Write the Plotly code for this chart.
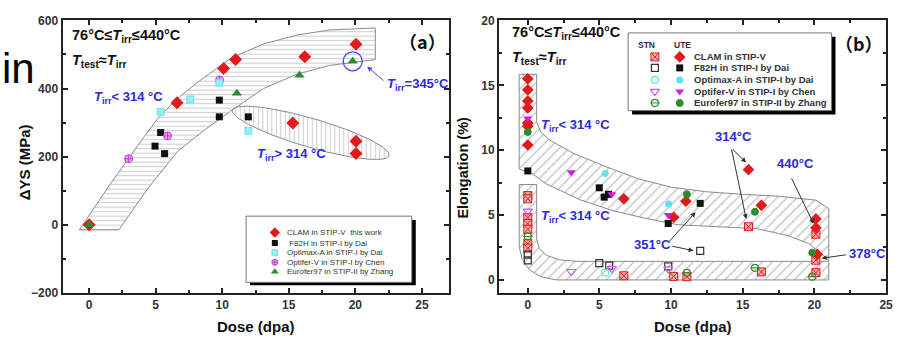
import numpy as np
import plotly.graph_objects as go

W, H = 906, 345

# ---------------- Panel (a): ΔYS vs dose ----------------
a_clam_x = [0, 6.6, 10.1, 11.0, 16.2, 20.05, 15.3, 20.05, 20.05]
a_clam_y = [0, 358, 459, 485, 493, 530, 299, 245, 209]
a_f82h_x = [4.95, 5.37, 5.67, 9.78, 9.78, 11.96]
a_f82h_y = [231, 271, 209, 366, 317, 317]
a_optifer_x = [2.97, 5.89, 9.8]
a_optifer_y = [194, 261, 425]
a_optimax_x = [5.37, 7.6, 9.78, 11.96]
a_optimax_y = [332, 368, 417, 276]
a_eurofer_x = [0, 11.1, 15.8, 19.8]
a_eurofer_y = [0, 386, 439, 480]

# ---------------- Panel (b): elongation vs dose ----------------
b_clam_ute_x = [0, 0, 0, 0, 0, 0, 0, 6.7, 11.03, 10.18, 15.4, 16.3, 20.1, 20.1, 20.2]
b_clam_ute_y = [15.5, 14.65, 13.8, 13.25, 12.1, 11.85, 10.4, 6.25, 6.07, 4.83, 8.5, 5.75, 4.7, 4.02, 1.97]
b_clam_stn_x = [0, 0, 0, 0, 0, 0, 0, 6.7, 10.18, 11.1, 15.4, 16.3, 20.1, 20.1, 20.1]
b_clam_stn_y = [6.5, 6.25, 4.8, 4.35, 3.9, 2.8, 2.45, 0.32, 0.27, 0.25, 4.1, 0.62, 3.52, 1.52, 0.56]
b_f82h_ute_x = [0, 4.99, 5.33, 5.63, 9.8, 12.03]
b_f82h_ute_y = [8.4, 7.1, 6.38, 6.6, 4.35, 5.9]
b_f82h_stn_x = [0, 0, 4.99, 5.68, 9.8, 12.03]
b_f82h_stn_y = [1.95, 1.5, 1.3, 1.1, 1.05, 2.24]
b_optimax_ute_x = [5.4, 9.83]
b_optimax_ute_y = [8.2, 5.85]
b_optimax_stn_x = [5.4]
b_optimax_stn_y = [0.57]
b_optifer_ute_x = [0, 3.03, 5.86, 9.8]
b_optifer_ute_y = [12.45, 8.3, 6.6, 5.0]
b_optifer_stn_x = [0, 3.03, 5.86, 9.8]
b_optifer_stn_y = [5.3, 0.65, 0.88, 0.85]
b_eurofer_ute_x = [0, 11.1, 15.85, 19.85]
b_eurofer_ute_y = [11.4, 6.6, 5.25, 2.1]
b_eurofer_stn_x = [0, 11.1, 15.85, 19.85]
b_eurofer_stn_y = [3.35, 0.55, 0.93, 0.25]

legend_a_names = ["CLAM in STIP-V  this work", " F82H in STIP-I by Dai", "Optimax-A in STIP-I by Dai",
                  "Optifer-V in STIP-I by Chen", "Eurofer97 in STIP-II by Zhang"]
legend_b_names = ["CLAM in STIP-V", "F82H in STIP-I by Dai", "Optimax-A in STIP-I by Dai",
                  "Optifer-V in STIP-I by Chen", "Eurofer97 in STIP-II by Zhang"]

# hatched band outlines (data units)
band_a = [(-0.74, -15), (1.49, 114), (3.71, 236), (5.2, 315), (6.68, 372), (8.17, 419), (10.64, 489),
          (13.1, 531), (15.6, 557), (18.07, 572), (21.5, 578),
          (21.5, 485), (18.07, 468), (15.6, 442), (13.1, 400), (10.64, 334), (8.66, 278), (6.68, 217),
          (4.46, 109), (2.23, -15)]
ellipse_a = dict(cx=16.65, cy=270, ux=5.88, uy=-67.0, vx=-0.32, vy=-40.4)
band_b_upper = [(-0.6, 15.85), (0.62, 15.85), (0.62, 12.2), (0.9, 11.4), (1.5, 10.8), (3.1, 9.8),
                (5.4, 8.75), (7.7, 7.8), (10.0, 7.15), (12.4, 6.8), (15.0, 6.6), (17.5, 6.45),
                (20.1, 6.15), (21.0, 5.5), (21.0, 1.5), (20.5, 2.0), (19.6, 2.8), (18.2, 3.4),
                (16.0, 3.95), (14.0, 4.05), (12.0, 4.15), (10.5, 4.25), (8.2, 4.75), (5.9, 5.35),
                (3.6, 6.2), (1.3, 7.4), (0.3, 8.2), (-0.6, 8.55)]
band_b_lower = [(-0.6, 7.35), (0.62, 7.35), (0.62, 3.2), (0.8, 2.4), (1.3, 1.9), (2.2, 1.55),
                (3.5, 1.43), (21.0, 1.43), (21.0, 0), (2.0, 0), (0.9, 0.25), (0.1, 0.8),
                (-0.4, 1.6), (-0.6, 2.6)]

RED = '#e01b1b'
BLK = '#111111'
CYA_A = '#8ff2f2'
CYA_B = '#5ee3ee'
MAG = '#d21ee0'
VIO = '#c060dc'
GRN = '#2f8a2f'
BLUE = '#2b2bd6'
FONT = 'Liberation Sans'

fig = go.Figure()

def band(pts, shape, xa, ya, size, solidity, color='#8c8c8c'):
    xs = [p[0] for p in pts] + [pts[0][0]]
    ys = [p[1] for p in pts] + [pts[0][1]]
    fig.add_trace(go.Scatter(x=xs, y=ys, mode='lines', fill='toself', xaxis=xa, yaxis=ya,
                             line=dict(color='#8a8a8a', width=1), fillcolor='rgba(0,0,0,0)',
                             fillpattern=dict(shape=shape, fgcolor=color, bgcolor='rgba(255,255,255,0)',
                                              size=size, solidity=solidity),
                             hoverinfo='skip', showlegend=False))

band(band_a, '-', 'x', 'y', 4.5, 0.25, '#a0a0a0')
t = np.linspace(0, 2 * np.pi, 120)
e = ellipse_a
band(list(zip(e['cx'] + e['ux'] * np.cos(t) + e['vx'] * np.sin(t),
              e['cy'] + e['uy'] * np.cos(t) + e['vy'] * np.sin(t))), '|', 'x', 'y', 4.5, 0.25, '#a0a0a0')
band(band_b_upper, '/', 'x2', 'y2', 7, 0.2)
band(band_b_lower, '/', 'x2', 'y2', 7, 0.2)

# marker styles
sty_a = [
    dict(symbol='diamond', size=10, color=RED, line=dict(color=RED, width=0)),
    dict(symbol='square', size=7, color=BLK, line=dict(width=0)),
    dict(symbol='square', size=7, color=CYA_A, line=dict(color='#6fd8e8', width=0.8)),
    dict(symbol='circle-cross', size=8, color='#e7a0ef', line=dict(color='#c040d0', width=1)),
    dict(symbol='triangle-up', size=9, color=GRN, line=dict(width=0)),
]
sty_ute = [
    dict(symbol='diamond', size=9, color=RED, line=dict(width=0)),
    dict(symbol='square', size=7, color=BLK, line=dict(width=0)),
    dict(symbol='circle', size=7, color=CYA_B, line=dict(width=0)),
    dict(symbol='triangle-down', size=8, color=MAG, line=dict(width=0)),
    dict(symbol='circle', size=7, color=GRN, line=dict(color=GRN, width=1)),
]
sty_stn = [
    dict(symbol='square-x', size=8, color='#f5b0b0', line=dict(color=RED, width=1)),
    dict(symbol='square-open', size=7, color='#333333', line=dict(width=1.2)),
    dict(symbol='circle-open', size=7, color=CYA_B, line=dict(width=1.2)),
    dict(symbol='triangle-down-open', size=8, color=VIO, line=dict(width=1.2)),
    dict(symbol='circle-open', size=7, color=GRN, line=dict(width=1.2)),
]

def pts(x, y, st, xa, ya):
    fig.add_trace(go.Scatter(x=x, y=y, mode='markers', marker=st, xaxis=xa, yaxis=ya,
                             showlegend=False, cliponaxis=False))

# panel (a) data
pts(a_clam_x, a_clam_y, sty_a[0], 'x', 'y')
pts(a_f82h_x, a_f82h_y, sty_a[1], 'x', 'y')
pts(a_optifer_x, a_optifer_y, sty_a[3], 'x', 'y')
pts(a_optimax_x, a_optimax_y, sty_a[2], 'x', 'y')
pts(a_eurofer_x, a_eurofer_y, sty_a[4], 'x', 'y')
# highlight circle around the 345 °C Eurofer point
pts([a_eurofer_x[-1]], [a_eurofer_y[-1]],
    dict(symbol='circle-open', size=19, color='#4a4ae0', line=dict(width=1.3)), 'x', 'y')

# panel (b) data
stn = [(b_clam_stn_x, b_clam_stn_y), (b_f82h_stn_x, b_f82h_stn_y), (b_optimax_stn_x, b_optimax_stn_y),
       (b_optifer_stn_x, b_optifer_stn_y), (b_eurofer_stn_x, b_eurofer_stn_y)]
ute = [(b_clam_ute_x, b_clam_ute_y), (b_f82h_ute_x, b_f82h_ute_y), (b_optimax_ute_x, b_optimax_ute_y),
       (b_optifer_ute_x, b_optifer_ute_y), (b_eurofer_ute_x, b_eurofer_ute_y)]
for (x, y), st in zip(stn, sty_stn):
    pts(x, y, st, 'x2', 'y2')
pts(b_eurofer_stn_x, b_eurofer_stn_y, dict(symbol='line-ew', size=7, color=GRN, line=dict(color=GRN, width=1)), 'x2', 'y2')
for (x, y), st in zip(ute, sty_ute):
    pts(x, y, st, 'x2', 'y2')

# ---------------- legends (drawn in pixel overlay) ----------------
leg_a_rows = [235, 246, 256, 266, 276]
leg_b_rows = [52, 63.5, 76, 88, 100]
for yy, st in zip(leg_a_rows, sty_a):
    s = dict(st); s['size'] = max(6, st['size'] - 2)
    pts([277], [yy], s, 'x3', 'y3')
for yy, st in zip(leg_b_rows, sty_stn):
    pts([660], [yy], st, 'x3', 'y3')
pts([660], [leg_b_rows[4]], dict(symbol='line-ew', size=7, color=GRN, line=dict(color=GRN, width=1)), 'x3', 'y3')
for yy, st in zip(leg_b_rows, sty_ute):
    pts([685], [yy], st, 'x3', 'y3')

shapes = [
    dict(type='rect', xref='x3', yref='y3', x0=252, y0=222, x1=419, y1=290, fillcolor='#000', line=dict(width=0), layer='below'),
    dict(type='rect', xref='x3', yref='y3', x0=248, y0=218, x1=415, y1=287, fillcolor='white', line=dict(color='#777', width=1), layer='below'),
    dict(type='rect', xref='x3', yref='y3', x0=637, y0=31, x1=842, y1=112, fillcolor='#000', line=dict(width=0), layer='below'),
    dict(type='rect', xref='x3', yref='y3', x0=633, y0=27, x1=838, y1=108, fillcolor='white', line=dict(color='#777', width=1), layer='below'),
]

ann = []
def txt(x, y, s, size=12, color='#111', xanchor='left', bold=True, family=FONT, angle=0):
    ann.append(dict(x=x, y=y, xref='x3', yref='y3', text=s, showarrow=False, xanchor=xanchor,
                    yanchor='middle', textangle=angle,
                    font=dict(family=family, size=size, color=color, weight='bold' if bold else 'normal')))

def arrow(x0, y0, x1, y1, color='#333'):
    ann.append(dict(x=x1, y=y1, ax=x0, ay=y0, xref='x3', yref='y3', axref='x3', ayref='y3', text='',
                    showarrow=True, arrowhead=2, arrowsize=1, arrowwidth=1, arrowcolor=color))

for yy, nm in zip(leg_a_rows, legend_a_names):
    txt(287, yy, nm, size=8, color='#333', bold=False)
for yy, nm in zip(leg_b_rows, legend_b_names):
    txt(697, yy, nm, size=9.5, color='#333')
txt(652, 40, 'STN', size=8.5, color='#333', xanchor='center')
txt(688, 40, 'UTE', size=8.5, color='#333', xanchor='center')

# stray text at left edge
ann.append(dict(x=0, y=64, xref='x3', yref='y3', text='in', showarrow=False, xanchor='left', yanchor='middle',
                font=dict(family=FONT, size=42, color='#000')))

# panel texts
irr = '<i>T</i><sub>irr</sub>'
txt(71, 30, '76°C≤' + irr + '≤440°C', size=14.5)
txt(71, 56, '<i>T</i><sub>test</sub>≈' + irr, size=14.5)
txt(426, 35, '（a）', size=18, xanchor='center', family='Noto Sans CJK SC')
txt(93, 94, irr + '&lt; 314 °C', size=13, color=BLUE)
txt(257, 154, irr + '&gt; 314 °C', size=13, color=BLUE)
txt(388, 81, irr + '=345°C', size=13, color=BLUE)
arrow(388, 78, 370, 62, color='#4a4ae0')

txt(514, 27, '76°C≤' + irr + '≤440°C', size=14.5)
txt(514, 53, '<i>T</i><sub>test</sub>≈' + irr, size=14.5)
txt(866, 37, '（b）', size=18, xanchor='center', family='Noto Sans CJK SC')
txt(543, 124, irr + '&lt; 314 °C', size=13, color=BLUE)
txt(543, 218, irr + '&lt; 314 °C', size=13, color=BLUE)
txt(719, 135, '314°C', size=13, color=BLUE)
txt(781, 163, '440°C', size=13, color=BLUE)
txt(637, 248, '351°C', size=13, color=BLUE)
txt(854, 257, '378°C', size=13, color=BLUE)
arrow(737, 147, 752, 162)
arrow(737, 147, 752, 221)
arrow(797, 177, 820, 226)
arrow(673, 246, 701, 214)
arrow(676, 249, 699, 254)
arrow(854, 258, 828, 262)

# axis titles
txt(25, 162, 'ΔYS (MPa)', size=15, xanchor='center', angle=-90)
txt(258, 333, 'Dose (dpa)', size=15, xanchor='center')
txt(698, 333, 'Dose (dpa)', size=15, xanchor='center')
txt(467, 167, 'Elongation (%)', size=14.5, xanchor='center', angle=-90)

ydom = [1 - 298 / H, 1 - 14 / H]
ax_common = dict(showline=True, linewidth=2, linecolor='#222', mirror='allticks', ticks='inside',
                 ticklen=5, tickwidth=1.5, tickcolor='#222', showgrid=False, zeroline=False,
                 ticklabeloverflow='allow',
                 tickfont=dict(family=FONT, size=12, color='#333', weight='bold'))

fig.update_layout(
    width=W, height=H, margin=dict(l=0, r=0, t=0, b=0), paper_bgcolor='white', plot_bgcolor='rgba(0,0,0,0)',
    showlegend=False,
    xaxis=dict(domain=[63 / W, 452 / W], range=[-2, 27], dtick=5, anchor='y',
               minor=dict(dtick=2.5, ticks='inside', ticklen=3, tickcolor='#222'), **ax_common),
    yaxis=dict(domain=ydom, range=[-200, 600], dtick=200, anchor='x',
               minor=dict(dtick=100, ticks='inside', ticklen=3, tickcolor='#222'), **ax_common),
    xaxis2=dict(domain=[503 / W, 893 / W], range=[-2, 25], dtick=5, anchor='y2',
                minor=dict(dtick=2.5, ticks='inside', ticklen=3, tickcolor='#222'), **ax_common),
    yaxis2=dict(domain=ydom, range=[-1, 20], dtick=5, anchor='x2',
                minor=dict(dtick=2.5, ticks='inside', ticklen=3, tickcolor='#222'), **ax_common),
    xaxis3=dict(domain=[0, 1], range=[0, W], visible=False, anchor='y3', fixedrange=True),
    yaxis3=dict(domain=[0, 1], range=[H, 0], visible=False, anchor='x3', fixedrange=True),
    shapes=shapes, annotations=ann,
)

# remove the browser's default 8px page margin so the figure sits at the window origin
fig.write_html("out.html", config={'displayModeBar': False},
               post_script="document.body.style.margin='0px';")
